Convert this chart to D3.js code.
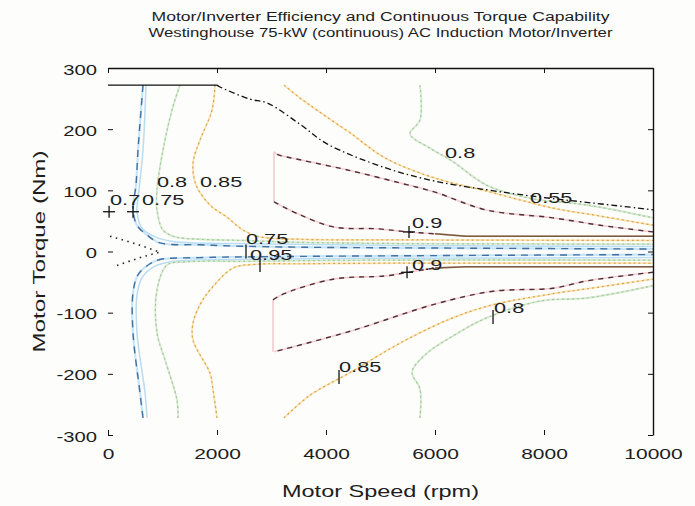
<!DOCTYPE html>
<html>
<head>
<meta charset="utf-8">
<script src="https://cdn.jsdelivr.net/npm/d3@7"></script>
<style>
  html, body { margin: 0; padding: 0; background: #fdfdfc; }
  svg text { font-family: "Liberation Sans", Arial, Helvetica, sans-serif; fill: #1e1e1e; }
</style>
</head>
<body>
<svg id="chart" width="695" height="506"></svg>
<script>
// ---- text ----
const titleLines = [
  "Motor/Inverter Efficiency and Continuous Torque Capability",
  "Westinghouse 75-kW (continuous) AC Induction Motor/Inverter"
];
const xLabel = "Motor Speed (rpm)";
const yLabel = "Motor Torque (Nm)";

// ---- axes ----
const xDomain = [0, 10000];
const yDomain = [-300, 300];
const xTicks = [0, 2000, 4000, 6000, 8000, 10000];
const yTicks = [-300, -200, -100, 0, 100, 200, 300];

// ---- continuous torque capability [rpm, Nm] ----
const capabilityFlat = [[0, 272], [2000, 272]];
const capabilityPower = [[2000, 272], [2055, 269], [2606, 249], [2918, 243], [3523, 208], [4019, 176],
  [5083, 137], [6000, 115], [6936, 101], [7744, 91], [8918, 79], [9726, 71], [10000, 68]];

// ---- efficiency contours [rpm, Nm] ----
const eff070Upper = [[642, 272], [606, 231], [551, 166], [514, 109], [459, 68], [532, 43], [716, 27],
  [954, 14], [1688, 11], [2294, 9], [3523, 7], [5358, 6], [7560, 5], [10000, 4]];
const eff070Lower = [[642, -272], [587, -231], [459, -133], [459, -68], [551, -38], [771, -20], [954, -13],
  [1688, -10], [2294, -9], [3523, -8], [5358, -7], [7560, -6], [10000, -5]];

const eff075Upper = [[697, 272], [642, 166], [569, 101], [532, 65], [624, 38], [862, 24], [1229, 16],
  [2294, 13], [5358, 10], [10000, 8]];
const eff075Lower = [[716, -272], [679, -231], [532, -133], [532, -71], [624, -43], [862, -24], [1229, -16],
  [2294, -13], [5358, -11], [10000, -10]];

const eff080Upper = [[1321, 272], [1174, 231], [1009, 166], [899, 101], [899, 68], [1009, 35], [1229, 24],
  [1688, 20], [2514, 18], [3523, 15], [5358, 13], [10000, 12]];
const eff080Lower = [[1285, -272], [1266, -243], [1046, -177], [899, -133], [899, -63], [1083, -22],
  [1413, -17], [2514, -16], [3523, -15], [5358, -14], [10000, -14]];

const eff085Upper = [[1963, 272], [1908, 231], [1688, 182], [1560, 145], [1615, 109], [1872, 76],
  [2184, 56], [2477, 35], [2789, 24], [3523, 20], [5358, 19], [10000, 18]];
const eff085Lower = [[2000, -272], [1927, -226], [1872, -199], [1560, -145], [1560, -117], [1688, -87],
  [1872, -63], [2294, -27], [2697, -21], [3523, -20], [5358, -19], [10000, -19]];

const eff080HighUpper = [[5725, 272], [5725, 215], [5542, 192], [5909, 169], [6312, 148], [6936, 109],
  [7744, 87], [8790, 76], [10000, 55]];
const eff080HighLower = [[5725, -272], [5725, -225], [5578, -197], [5817, -169], [6276, -141], [6936, -109],
  [7927, -81], [8790, -76], [10000, -56]];

const eff085HighUpper = [[3230, 272], [3523, 251], [3835, 231], [4441, 194], [5083, 153], [6000, 120],
  [6936, 99], [8166, 71], [9028, 58], [10000, 43]];
const eff085HighLower = [[3230, -272], [3707, -235], [4459, -197], [5395, -148], [6312, -109], [7065, -87],
  [8166, -69], [9028, -58], [10000, -45]];

const eff090UpperOuter = [[10000, 32], [9028, 43], [8166, 55], [6936, 68], [6000, 97], [5358, 112],
  [4459, 132], [3523, 150], [3101, 159], [3046, 163]];
const eff090UpperEdge = [[3046, 163], [3046, 81]];
const eff090UpperInner = [[3046, 81], [3523, 60], [4147, 40], [4955, 37], [5505, 32], [6000, 29],
  [6569, 25], [10000, 25]];
const eff090LowerOuter = [[10000, -34], [8790, -48], [8166, -60], [7065, -65], [6000, -86], [4459, -130],
  [3046, -164]];
const eff090LowerEdge = [[3028, -164], [3028, -79]];
const eff090LowerInner = [[3028, -79], [3230, -69], [4147, -45], [5083, -40], [5505, -34], [6000, -27],
  [6569, -25], [10000, -25]];

const eff060 = [[37, 25], [459, 14], [954, -1], [624, -9], [92, -25]];

// ---- contour labels (left edge of text at rpm, baseline at Nm) ----
const labelText = ["0.7", "0.75", "0.8", "0.85", "0.75", "0.95", "0.8", "0.55", "0.9", "0.9", "0.8", "0.85"];
const labelRpm  = [37, 624, 899, 1688, 2532, 2606, 6184, 7744, 5578, 5578, 7083, 4239];
const labelNm   = [76, 76, 105, 105, 12, -14, 153, 79, 38, -30, -101, -197];

// ---- label markers ----
const plusRpm = [20, 459, 5523, 5487];
const plusNm  = [65, 65, 32, -34];
const barRpm  = [2532, 2789, 7065, 4239];
const barNm   = [0, -22, -107, -205];

// ================= drawing =================
const W = 695, H = 506;
const svg = d3.select("#chart");
svg.append("rect").attr("width", W).attr("height", H).attr("fill", "#fdfdfc");

const x = d3.scaleLinear().domain(xDomain).range([108, 653]);
const y = d3.scaleLinear().domain(yDomain).range([435, 68]);

const defs = svg.append("defs");
defs.append("clipPath").attr("id", "plotClip").append("rect")
  .attr("x", x(xDomain[0]) - 3).attr("y", y(yDomain[1]))
  .attr("width", x(xDomain[1]) - x(xDomain[0]) + 3).attr("height", y(yDomain[0]) - y(yDomain[1]));

const plot = svg.append("g").attr("clip-path", "url(#plotClip)");
const smooth = d3.line().x(d => x(d[0])).y(d => y(d[1])).curve(d3.curveCatmullRom.alpha(0.5));
const straight = d3.line().x(d => x(d[0])).y(d => y(d[1]));

function trace(pts, color, width, dash, gen) {
  plot.append("path").attr("d", (gen || smooth)(pts))
    .attr("fill", "none").attr("stroke", color).attr("stroke-width", width)
    .attr("stroke-dasharray", dash || null).attr("stroke-linejoin", "round");
}
function contour(pts, style, gen) {
  trace(pts, style.under, style.uw, null, gen);
  if (style.over) trace(pts, style.over, style.ow, style.dash, gen);
}

const BLUE   = { under: "#c8e5f7", uw: 2.2, over: "#44709f", ow: 1.4, dash: "7,6" };
const LBLUE  = { under: "#b8dcf2", uw: 1.5, over: null };
const GREEN  = { under: "#d5e9cf", uw: 1.8, over: "#a3c99b", ow: 1.2, dash: "2,3" };
const ORANGE = { under: "#fbe4b4", uw: 1.8, over: "#d8a24c", ow: 1.2, dash: "2,3" };
const MAROON = { under: "#f3cfcf", uw: 1.6, over: "#4f2e3a", ow: 1.4, dash: "5,5" };
const PINK   = { under: "#f1c4c8", uw: 1.4, over: null };
const TAIL   = { under: "#e9d3b0", uw: 1.8, over: "#7b5a43", ow: 1.4, dash: null };

contour(eff075Upper, LBLUE); contour(eff075Lower, LBLUE);
contour(eff070Upper, BLUE);  contour(eff070Lower, BLUE);
contour(eff080Upper, GREEN); contour(eff080Lower, GREEN);
contour(eff085Upper, ORANGE); contour(eff085Lower, ORANGE);
contour(eff080HighUpper, GREEN); contour(eff080HighLower, GREEN);
contour(eff085HighUpper, ORANGE); contour(eff085HighLower, ORANGE);

contour(eff090UpperOuter, MAROON); contour(eff090LowerOuter, MAROON);
contour(eff090UpperEdge, PINK, straight); contour(eff090LowerEdge, PINK, straight);
contour(eff090UpperInner.slice(0, 6), MAROON); contour(eff090LowerInner.slice(0, 6), MAROON);
contour(eff090UpperInner.slice(5), TAIL, straight); contour(eff090LowerInner.slice(5), TAIL, straight);

trace(eff060, "#222", 1.6, "1.5,4.5", straight);

// torque capability envelope
trace(capabilityFlat, "#111", 1.4, null, straight);
trace(capabilityPower, "#111", 1.3, "6,3,1.5,3");

// label markers
const marks = svg.append("g").attr("stroke", "#111").attr("stroke-width", 1.3);
plusRpm.forEach((r, i) => {
  const cx = x(r), cy = y(plusNm[i]);
  marks.append("line").attr("x1", cx - 6).attr("x2", cx + 6).attr("y1", cy).attr("y2", cy);
  marks.append("line").attr("x1", cx).attr("x2", cx).attr("y1", cy - 6).attr("y2", cy + 6);
});
barRpm.forEach((r, i) => {
  const cx = x(r), cy = y(barNm[i]);
  marks.append("line").attr("x1", cx).attr("x2", cx).attr("y1", cy - 7).attr("y2", cy + 7);
});

// stretched text helper
function stretched(g, px, py, str, size, sx, anchor) {
  return g.append("text")
    .attr("transform", `translate(${px},${py}) scale(${sx},1)`)
    .attr("text-anchor", anchor || "start")
    .style("font-size", size + "px")
    .text(str);
}

const labels = svg.append("g");
labelText.forEach((t, i) => stretched(labels, x(labelRpm[i]), y(labelNm[i]), t, 15, 1.45));

// ---- axes ----
const plain = d => String(d);
const tickStyle = g => {
  g.selectAll(".tick line").attr("stroke", "#111").attr("stroke-width", 1);
  g.selectAll("text").remove();
};

const axB = svg.append("g").attr("transform", `translate(0,${y(yDomain[0])})`)
  .call(d3.axisBottom(x).tickValues(xTicks).tickFormat(plain).tickSizeInner(-5).tickSizeOuter(0));
axB.select(".domain").remove();
axB.selectAll(".tick line").attr("stroke", "#111");
axB.selectAll(".tick text").attr("y", 0).attr("dy", 0).attr("x", 0)
  .attr("transform", "translate(0,24) scale(1.4,1)")
  .style("font-size", "15px").style("font-family", null).attr("fill", null);

const axL = svg.append("g").attr("transform", `translate(${x(xDomain[0])},0)`)
  .call(d3.axisLeft(y).tickValues(yTicks).tickFormat(plain).tickSizeInner(-5).tickSizeOuter(0));
axL.select(".domain").remove();
axL.selectAll(".tick line").attr("stroke", "#111");
axL.selectAll(".tick text").attr("x", 0).attr("dy", 0).attr("y", 0)
  .attr("transform", "translate(-11,6) scale(1.35,1)")
  .style("font-size", "15px").style("font-family", null).attr("fill", null);

const axT = svg.append("g").attr("transform", `translate(0,${y(yDomain[1])})`)
  .call(d3.axisTop(x).tickValues(xTicks).tickSizeInner(-5).tickSizeOuter(0));
axT.call(tickStyle); axT.select(".domain").attr("stroke", "#111").attr("stroke-width", 1.4);

const axR = svg.append("g").attr("transform", `translate(${x(xDomain[1])},0)`)
  .call(d3.axisRight(y).tickValues(yTicks).tickSizeInner(-5).tickSizeOuter(0));
axR.call(tickStyle); axR.select(".domain").attr("stroke", "#111").attr("stroke-width", 1.4);

// ---- titles ----
const cx = (x(xDomain[0]) + x(xDomain[1])) / 2;
svg.append("text").attr("x", cx).attr("y", 21).attr("text-anchor", "middle")
  .attr("textLength", 458).attr("lengthAdjust", "spacingAndGlyphs")
  .style("font-size", "12px").text(titleLines[0]);
svg.append("text").attr("x", cx).attr("y", 37).attr("text-anchor", "middle")
  .attr("textLength", 464).attr("lengthAdjust", "spacingAndGlyphs")
  .style("font-size", "12px").text(titleLines[1]);

svg.append("text").attr("x", cx).attr("y", 497).attr("text-anchor", "middle")
  .attr("textLength", 197).attr("lengthAdjust", "spacingAndGlyphs")
  .style("font-size", "17px").text(xLabel);

svg.append("text").attr("transform", `translate(45,${(y(yDomain[0]) + y(yDomain[1])) / 2}) rotate(-90)`)
  .attr("text-anchor", "middle")
  .attr("textLength", 202).attr("lengthAdjust", "spacingAndGlyphs")
  .style("font-size", "17px").text(yLabel);
</script>
</body>
</html>
